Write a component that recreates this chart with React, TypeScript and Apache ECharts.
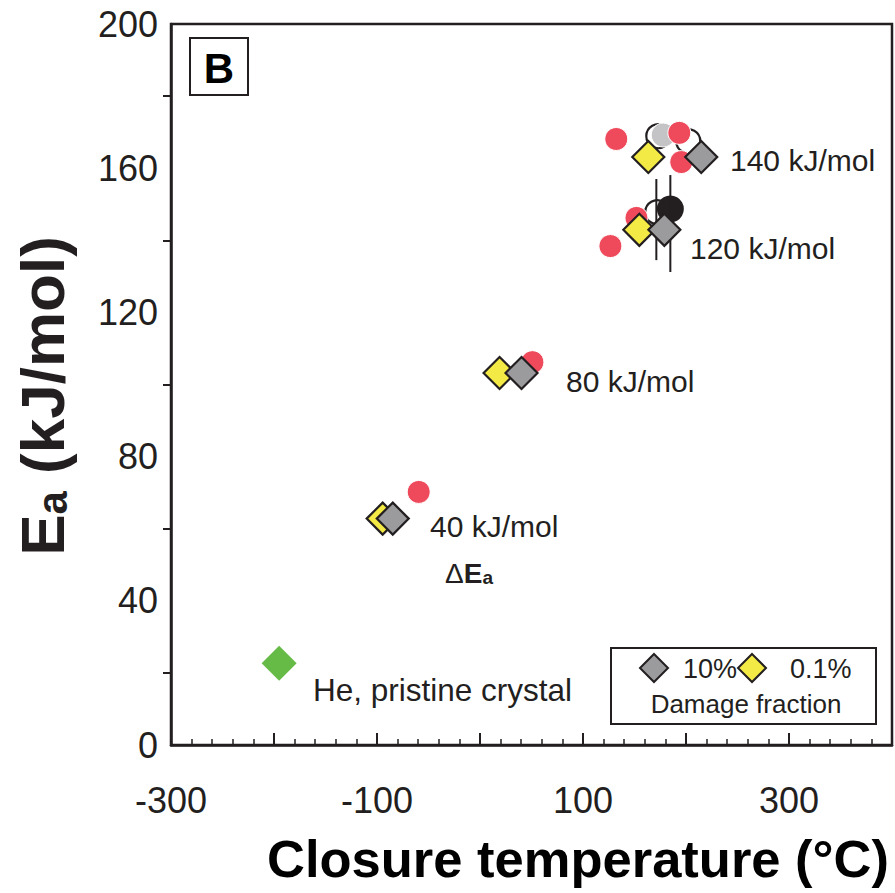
import React, { useEffect, useRef } from "react";
import * as echarts from "echarts";

const FONT = "'Liberation Sans', Arial, Helvetica, sans-serif";
const INK = "#231f20";

// x = closure temperature (°C), y = Ea (kJ/mol)
const pristine = [[-195, 22.7]];
const damage10 = [
  [-84.7, 62.8],
  [40.3, 103.2],
  [179, 142.9],
  [214.8, 163.1],
];
const damage01 = [
  [-94.5, 62.8],
  [19, 103.2],
  [154.7, 142.9],
  [163.4, 163.1],
];
const redPoints = [
  [-59.5, 70.2],
  [50.9, 106.2],
  [151.9, 146.2],
  [126.6, 138.4],
  [132.3, 168.1],
  [195.4, 161.7],
  [193.5, 169.8],
];
const openCircles = [
  [173.1, 168.9],
  [202.2, 167.5],
  [172.1, 147.8],
];
const grayCircle = [[177.9, 169.2]];
const blackCircle = [[184.8, 148.7]];
const errorBar1 = [
  [171.2, 157.0],
  [171.2, 134.5],
];
const errorBar2 = [
  [184.8, 158.1],
  [184.8, 131.2],
];

const xTicksMin = -300;
const xTicksMax = 400;
const yTicksMin = 0;
const yTicksMax = 200;

function diamondPoints(cx: number, cy: number, s: number) {
  const h = s / 2;
  return [
    [cx, cy - h],
    [cx + h, cy],
    [cx, cy + h],
    [cx - h, cy],
  ];
}

export default function App() {
  const ref = useRef<HTMLDivElement>(null);
  useEffect(() => {
    if (!ref.current) return;
    const chart = echarts.init(ref.current, undefined, { renderer: "svg" });
    const textBase = { fontFamily: FONT, fill: INK };
    chart.setOption({
      animation: false,
      backgroundColor: "#ffffff",
      grid: {
        left: 171,
        top: 24,
        right: 2,
        bottom: 148,
        show: true,
        borderColor: INK,
        borderWidth: 2.5,
      },
      xAxis: {
        type: "value",
        min: xTicksMin,
        max: xTicksMax,
        interval: 100,
        axisLine: { show: true, onZero: false, lineStyle: { color: INK, width: 2.5 } },
        axisTick: { show: true, inside: true, length: 12, lineStyle: { color: INK, width: 2 } },
        minorTick: { show: true, splitNumber: 5, length: 6, lineStyle: { color: INK, width: 1.5 } },
        splitLine: { show: false },
        axisLabel: {
          formatter: (v: number) => (v % 200 !== 0 ? String(v) : ""),
          fontFamily: FONT,
          fontSize: 36,
          color: INK,
          margin: 37,
        },
      },
      yAxis: {
        type: "value",
        min: yTicksMin,
        max: yTicksMax,
        interval: 40,
        axisLine: { show: true, onZero: false, lineStyle: { color: INK, width: 2.5 } },
        axisTick: { show: false, inside: false },
        minorTick: { show: true, splitNumber: 2, length: 8, lineStyle: { color: INK, width: 2 } },
        splitLine: { show: false },
        axisLabel: {
          fontFamily: FONT,
          fontSize: 36,
          color: INK,
          margin: 13,
        },
      },
      series: [
        {
          type: "scatter",
          name: "open",
          data: openCircles,
          symbol: "circle",
          symbolSize: 24,
          itemStyle: { color: "#ffffff", borderColor: INK, borderWidth: 2.2, opacity: 1 },
          z: 1,
        },
        {
          type: "scatter",
          name: "gray circle",
          data: grayCircle,
          symbol: "circle",
          symbolSize: 24,
          itemStyle: { color: "#c4c4c6", borderColor: "#ffffff", borderWidth: 1, opacity: 1 },
          z: 2,
        },
        {
          type: "scatter",
          name: "red",
          data: redPoints,
          symbol: "circle",
          symbolSize: 23,
          itemStyle: { color: "#ef4a5b", borderColor: "#ffffff", borderWidth: 1, opacity: 1 },
          z: 3,
        },
        {
          type: "scatter",
          name: "black",
          data: blackCircle,
          symbol: "circle",
          symbolSize: 27,
          itemStyle: { color: "#231f20", opacity: 1 },
          z: 4,
        },
        {
          type: "line",
          name: "bar1",
          data: errorBar1,
          symbol: "none",
          lineStyle: { color: INK, width: 2 },
          z: 5,
        },
        {
          type: "line",
          name: "bar2",
          data: errorBar2,
          symbol: "none",
          lineStyle: { color: INK, width: 2 },
          z: 5,
        },
        {
          type: "scatter",
          name: "pristine",
          data: pristine,
          symbol: "diamond",
          symbolSize: 35,
          itemStyle: { color: "#66bb47", opacity: 1 },
          z: 6,
        },
        {
          type: "scatter",
          name: "0.1%",
          data: damage01,
          symbol: "diamond",
          symbolSize: 32,
          itemStyle: { color: "#f4ea45", borderColor: INK, borderWidth: 2.2, opacity: 1 },
          z: 7,
        },
        {
          type: "scatter",
          name: "10%",
          data: damage10,
          symbol: "diamond",
          symbolSize: 32,
          itemStyle: { color: "#9b9b9d", borderColor: INK, borderWidth: 2.2, opacity: 1 },
          z: 8,
        },
      ],
      graphic: [
        // panel letter
        {
          type: "rect",
          shape: { x: 190, y: 38, width: 58, height: 57 },
          style: { fill: "#ffffff", stroke: INK, lineWidth: 2 },
          z: 20,
        },
        {
          type: "text",
          x: 219,
          y: 68,
          style: { ...textBase, text: "B", fontSize: 42, fontWeight: "bold", align: "center", verticalAlign: "middle", fill: "#000" },
          z: 21,
        },
        // annotations
        { type: "text", x: 730, y: 160, style: { ...textBase, text: "140 kJ/mol", fontSize: 30, verticalAlign: "middle" }, z: 20 },
        { type: "text", x: 690, y: 248, style: { ...textBase, text: "120 kJ/mol", fontSize: 30, verticalAlign: "middle" }, z: 20 },
        { type: "text", x: 566, y: 381, style: { ...textBase, text: "80 kJ/mol", fontSize: 30, verticalAlign: "middle" }, z: 20 },
        { type: "text", x: 430, y: 526, style: { ...textBase, text: "40 kJ/mol", fontSize: 30, verticalAlign: "middle" }, z: 20 },
        { type: "text", x: 313, y: 690, style: { ...textBase, text: "He, pristine crystal", fontSize: 31.5, verticalAlign: "middle" }, z: 20 },
        {
          type: "text",
          x: 445,
          y: 572,
          style: {
            ...textBase,
            text: "{d|Δ}{e|E}{s|a}",
            verticalAlign: "middle",
            rich: {
              d: { fontFamily: FONT, fontSize: 28, color: INK, verticalAlign: "bottom", lineHeight: 30 },
              e: { fontFamily: FONT, fontSize: 28, fontWeight: "bold", color: INK, verticalAlign: "bottom", lineHeight: 30 },
              s: { fontFamily: FONT, fontSize: 19, fontWeight: "bold", color: INK, verticalAlign: "bottom", lineHeight: 22 },
            },
          },
          z: 20,
        },
        // legend box
        {
          type: "rect",
          shape: { x: 611, y: 648, width: 265, height: 76 },
          style: { fill: "#ffffff", stroke: INK, lineWidth: 2 },
          z: 20,
        },
        {
          type: "polygon",
          shape: { points: diamondPoints(654, 668, 28) },
          style: { fill: "#9b9b9d", stroke: INK, lineWidth: 2 },
          z: 21,
        },
        { type: "text", x: 683, y: 669, style: { ...textBase, text: "10%", fontSize: 27, verticalAlign: "middle" }, z: 21 },
        {
          type: "polygon",
          shape: { points: diamondPoints(752, 668, 28) },
          style: { fill: "#f4ea45", stroke: INK, lineWidth: 2 },
          z: 21,
        },
        { type: "text", x: 790, y: 669, style: { ...textBase, text: "0.1%", fontSize: 27, verticalAlign: "middle" }, z: 21 },
        { type: "text", x: 746, y: 704, style: { ...textBase, text: "Damage fraction", fontSize: 26, align: "center", verticalAlign: "middle" }, z: 21 },
        // axis titles
        {
          type: "text",
          x: 578,
          y: 858,
          style: { ...textBase, text: "Closure temperature (°C)", fontSize: 52.5, fontWeight: "bold", align: "center", verticalAlign: "middle", fill: "#000" },
          z: 20,
        },
        {
          type: "text",
          x: 40,
          y: 396,
          rotation: Math.PI / 2,
          style: {
            ...textBase,
            text: "{e|E}{s|a}{e| (kJ/mol)}",
            align: "center",
            verticalAlign: "middle",
            rich: {
              e: { fontFamily: FONT, fontSize: 62, fontWeight: "bold", color: "#000", verticalAlign: "bottom", lineHeight: 66 },
              s: { fontFamily: FONT, fontSize: 42, fontWeight: "bold", color: "#000", verticalAlign: "bottom", lineHeight: 56 },
            },
          },
          z: 20,
        },
      ],
    });
    return () => chart.dispose();
  }, []);
  return (
    <div
      ref={ref}
      style={{ position: "absolute", left: 0, top: 0, width: 895, height: 893 }}
    />
  );
}
